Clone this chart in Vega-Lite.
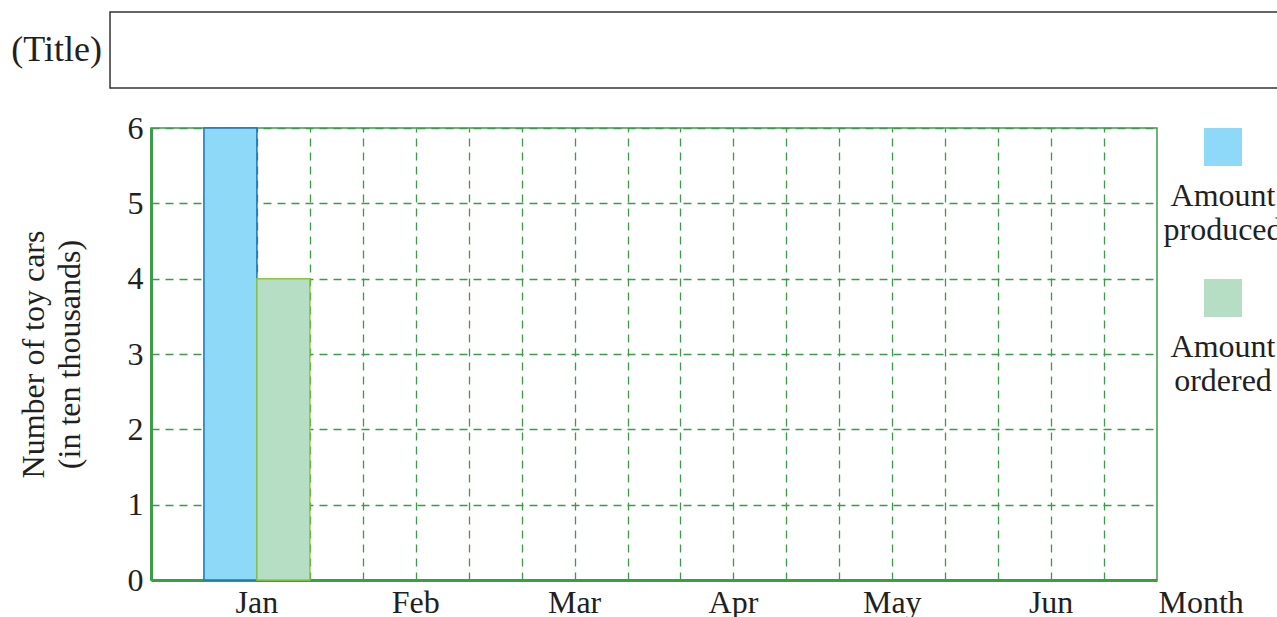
{
  "$schema": "https://vega.github.io/schema/vega-lite/v6.json",
  "background": "white",
  "padding": {"left": 11, "top": 11, "right": 0, "bottom": 0},
  "spacing": 22,
  "config": {
    "font": "Liberation Serif",
    "axis": {"labelFont": "Liberation Serif", "titleFont": "Liberation Serif", "labelColor": "#231f20", "titleColor": "#231f20"},
    "legend": {"labelFont": "Liberation Serif"},
    "title": {"font": "Liberation Serif"}
  },
  "vconcat": [
    {
      "width": 1006,
      "height": 76,
      "view": {"stroke": null},
      "data": {"values": [{"label": "(Title)"}]},
      "layer": [
        {
          "mark": {"type": "rect", "fill": null, "stroke": "#333333", "strokeWidth": 1.5},
          "encoding": {
            "x": {"datum": -0.774, "type": "quantitative", "scale": {"domain": [0, 19], "nice": false, "zero": false}, "axis": null},
            "x2": {"datum": 22},
            "y": {"datum": 0, "type": "quantitative", "scale": {"domain": [0, 1], "nice": false}, "axis": null},
            "y2": {"datum": 1}
          }
        },
        {
          "mark": {"type": "text", "align": "right", "baseline": "middle", "fontSize": 36, "font": "Liberation Serif", "color": "#231f20"},
          "encoding": {
            "x": {"datum": -0.925, "type": "quantitative"},
            "y": {"datum": 0.5, "type": "quantitative"},
            "text": {"field": "label", "type": "nominal"}
          }
        }
      ]
    },
    {
      "width": 1006,
      "height": 452,
      "view": {"stroke": "#3c9d47", "strokeWidth": 1.5},
      "data": {"values": [
        {"month": "Jan", "series": "Amount produced", "cars": 6},
        {"month": "Jan", "series": "Amount ordered", "cars": 4}
      ]},
      "layer": [
        {
          "mark": {"type": "point", "opacity": 0},
          "encoding": {
            "x": {"datum": 0, "type": "quantitative", "scale": {"domain": [0, 19], "nice": false, "zero": false},
              "axis": {"orient": "top", "values": [1,2,3,4,5,6,7,8,9,10,11,12,13,14,15,16,17,18], "grid": true, "gridColor": "#3a9b48", "gridDash": [8, 6], "gridWidth": 1.3, "labels": false, "ticks": false, "domain": false, "title": null}},
            "y": {"datum": 0, "type": "quantitative"}
          }
        },
        {
          "mark": {"type": "bar", "strokeWidth": 1.5},
          "encoding": {
            "x": {"field": "month", "type": "nominal", "sort": null,
              "scale": {"domain": ["Jan", "Feb", "Mar", "Apr", "May", "Jun"], "paddingInner": 0.3333, "paddingOuter": 0.3333},
              "axis": {"labelAngle": 0, "labelFontSize": 32, "labelPadding": 7, "ticks": false, "grid": false, "domainColor": "#3c9d47", "domainWidth": 3,
                "title": "Month", "titleFontSize": 32, "titleFontWeight": "normal", "titleX": 1007, "titleY": 7, "titleAlign": "left", "titleBaseline": "top", "titleAnchor": null}},
            "xOffset": {"field": "series", "type": "nominal", "scale": {"domain": ["Amount produced", "Amount ordered"], "paddingInner": 0, "paddingOuter": 0}},
            "y": {"field": "cars", "type": "quantitative", "scale": {"domain": [0, 6], "nice": false},
              "axis": {"values": [0,1,2,3,4,5,6], "format": "d", "grid": true, "gridColor": "#3a9b48", "gridDash": [8, 6], "gridWidth": 1.3, "ticks": false, "labelFontSize": 32, "labelPadding": 8,
                "domainColor": "#3c9d47", "domainWidth": 3,
                "title": ["Number of toy cars", "(in ten thousands)"], "titleFontSize": 32, "titleFontWeight": "normal", "titleLineHeight": 36, "titlePadding": 41}},
            "color": {"field": "series", "type": "nominal",
              "scale": {"domain": ["Amount produced", "Amount ordered"], "range": ["#8ed8f8", "#b5dec4"]},
              "legend": {"orient": "none", "legendX": 1053, "legendY": 116, "title": null, "symbolType": "square", "symbolSize": 1444, "symbolStrokeWidth": 0,
                "labelFontSize": 32, "labelColor": "#231f20", "labelExpr": "split(' ' + datum.label, ' ')", "labelAlign": "center", "labelBaseline": "top", "labelOffset": -19, "rowPadding": 33, "labelLimit": 0}},
            "stroke": {"field": "series", "type": "nominal", "scale": {"domain": ["Amount produced", "Amount ordered"], "range": ["#1a75bc", "#8dc63f"]}, "legend": null}
          }
        }
      ],
      "resolve": {"scale": {"x": "independent"}, "axis": {"x": "independent"}}
    }
  ]
}
